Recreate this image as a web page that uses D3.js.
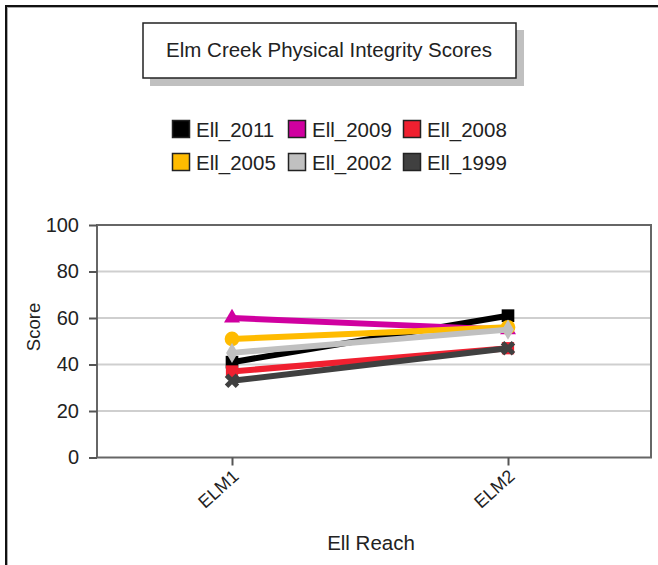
<!DOCTYPE html>
<html>
<head>
<meta charset="utf-8">
<script src="https://cdn.jsdelivr.net/npm/d3@7"></script>
<style>
  body { margin: 0; background: #fff; }
  text { font-family: "Liberation Sans", Arial, sans-serif; fill: #222; }
</style>
</head>
<body>
<svg id="chart" width="658" height="565"></svg>
<script>
var reaches = ["ELM1", "ELM2"];
var seriesNames = ["Ell_2011", "Ell_2009", "Ell_2008", "Ell_2005", "Ell_2002", "Ell_1999"];
var ell2011 = [41, 61];
var ell2009 = [60, 55];
var ell2008 = [37, 47];
var ell2005 = [51, 56];
var ell2002 = [45, 55];
var ell1999 = [33, 47];
var yTicks = [0, 20, 40, 60, 80, 100];

var colors = ["#000000", "#d000a0", "#f02030", "#ffbb00", "#c0c0c0", "#404040"];
var symbols = [d3.symbolSquare, d3.symbolTriangle, d3.symbolSquare, d3.symbolCircle, d3.symbolDiamond, d3.symbolTimes];
var symSizes = [160, 110, 150, 170, 120, 80];
var allValues = [ell2011, ell2009, ell2008, ell2005, ell2002, ell1999];

var svg = d3.select("#chart");

// outer frame (runs off the right/bottom edge)
svg.append("rect").attr("x", 7.5).attr("y", 7.5).attr("width", 700).attr("height", 600)
  .attr("fill", "none").attr("stroke", "#aaa").attr("stroke-width", 1);
svg.append("rect").attr("x", 6).attr("y", 6).attr("width", 700).attr("height", 600)
  .attr("fill", "none").attr("stroke", "#111").attr("stroke-width", 2);

// title box with shadow
svg.append("rect").attr("x", 150).attr("y", 30).attr("width", 374).attr("height", 56).attr("fill", "#c0c0c0");
svg.append("rect").attr("x", 143).attr("y", 23).attr("width", 373).attr("height", 55)
  .attr("fill", "#fff").attr("stroke", "#222").attr("stroke-width", 1.5);
svg.append("text").attr("x", 329).attr("y", 57).attr("text-anchor", "middle")
  .style("font-size", "20.5px").text("Elm Creek Physical Integrity Scores");

// legend
var legX = [172, 288, 403];
var legend = svg.append("g").selectAll("g").data(seriesNames).join("g")
  .attr("transform", function(d, i) { return "translate(" + legX[i % 3] + "," + (120 + Math.floor(i / 3) * 33) + ")"; });
legend.append("rect").attr("x", 0.5).attr("y", 0.5).attr("width", 17).attr("height", 17)
  .attr("fill", function(d, i) { return colors[i]; }).attr("stroke", "#222").attr("stroke-width", 1.5);
legend.append("text").attr("x", 24).attr("y", 16.5).style("font-size", "20.5px").text(function(d) { return d; });

// plot area
var pLeft = 97, pRight = 651, pTop = 225, pBottom = 457.5;
var x = d3.scalePoint().domain(reaches).range([pLeft - 3, pRight - 5]).padding(0.5);
var y = d3.scaleLinear().domain([0, 100]).range([pBottom, pTop]);

svg.append("g").selectAll("line").data(yTicks.slice(1, -1)).join("line")
  .attr("x1", pLeft).attr("x2", pRight).attr("y1", function(d) { return y(d); }).attr("y2", function(d) { return y(d); })
  .attr("stroke", "#cfcfcf").attr("stroke-width", 2);

svg.append("rect").attr("x", pLeft).attr("y", pTop).attr("width", pRight - pLeft).attr("height", pBottom - pTop)
  .attr("fill", "none").attr("stroke", "#666").attr("stroke-width", 2);

var yAxis = svg.append("g").attr("transform", "translate(" + pLeft + ",0)")
  .call(d3.axisLeft(y).tickValues(yTicks).tickSize(8).tickPadding(10));
var xAxis = svg.append("g").attr("transform", "translate(0," + pBottom + ")")
  .call(d3.axisBottom(x).tickSize(8).tickPadding(4));
[yAxis, xAxis].forEach(function(a) {
  a.select(".domain").remove();
  a.selectAll(".tick line").attr("stroke", "#555").attr("stroke-width", 2);
  a.selectAll("text").style("font-size", "20px").attr("fill", "#333").style("font-family", "'Liberation Sans', Arial, sans-serif");
});
xAxis.selectAll("text").style("font-size", "18px").attr("text-anchor", "end").attr("dy", "0.7em").attr("y", 0)
  .attr("transform", "translate(-1,11) rotate(-42)");

svg.append("text").attr("transform", "translate(40,327) rotate(-90)").attr("text-anchor", "middle")
  .style("font-size", "18.5px").text("Score");
svg.append("text").attr("x", 371).attr("y", 550).attr("text-anchor", "middle")
  .style("font-size", "20.5px").text("Ell Reach");

// series
var line = d3.line().x(function(d, i) { return x(reaches[i]); }).y(function(d) { return y(d); });
var series = svg.append("g").selectAll("g").data(allValues).join("g");
series.append("path").attr("d", function(d) { return line(d); })
  .attr("fill", "none").attr("stroke", function(d, i) { return colors[i]; }).attr("stroke-width", 6);
series.each(function(vals, si) {
  var stroke = symbols[si] === d3.symbolTimes;
  d3.select(this).selectAll("path.mk").data(vals).join("path").attr("class", "mk")
    .attr("transform", function(d, i) { return "translate(" + x(reaches[i]) + "," + y(d) + ")"; })
    .attr("d", d3.symbol(symbols[si], symSizes[si]))
    .attr("fill", stroke ? "none" : colors[si])
    .attr("stroke", stroke ? colors[si] : "none").attr("stroke-width", stroke ? 5 : 0);
});
</script>
</body>
</html>
